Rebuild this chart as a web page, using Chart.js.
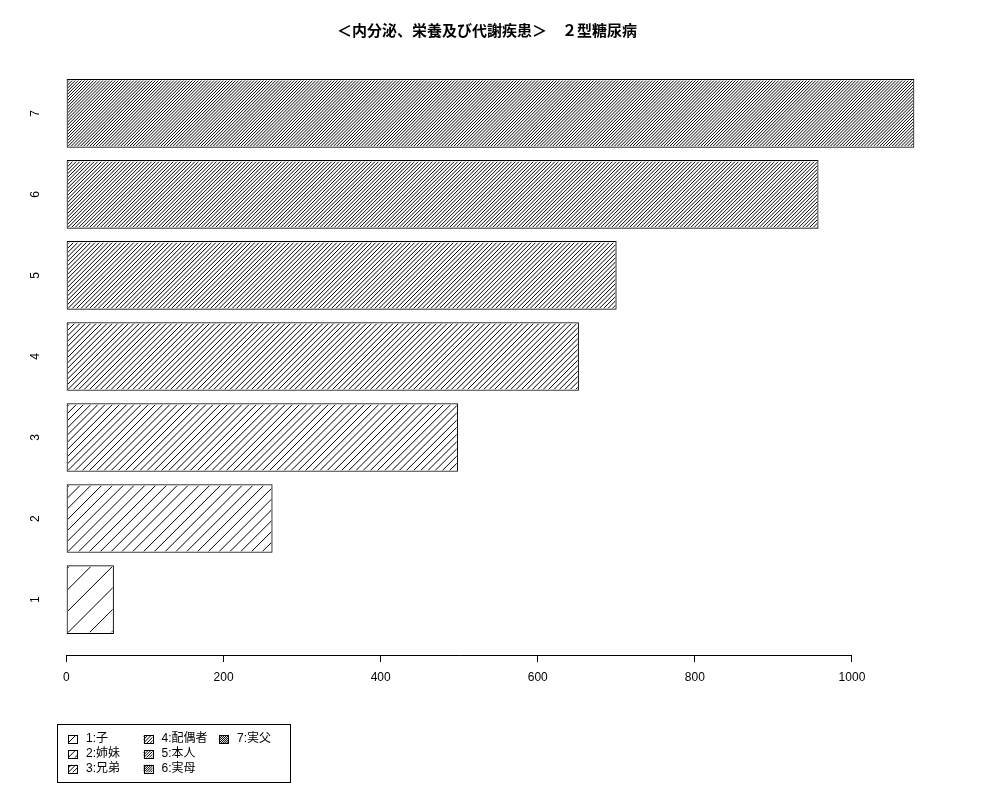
<!DOCTYPE html>
<html>
<head>
<meta charset="utf-8">
<title>2型糖尿病</title>
<script src="https://cdn.jsdelivr.net/npm/chart.js@4.4.0/dist/chart.umd.min.js"></script>
<style>
html, body { margin: 0; padding: 0; background: #fff; }
#chartBox { width: 1000px; height: 800px; }
</style>
</head>
<body>
<div id="chartBox"><canvas id="chart" width="1000" height="800"></canvas></div>
<script>
const chartTitle = "＜内分泌、栄養及び代謝疾患＞　２型糖尿病";
const categories = ["1", "2", "3", "4", "5", "6", "7"];
const values = [60, 262, 498, 652, 700, 957, 1079];
const legendLabels = ["1:子", "2:姉妹", "3:兄弟", "4:配偶者", "5:本人", "6:実母", "7:実父"];
const xTicks = [0, 200, 400, 600, 800, 1000];

const latinFont = "'Liberation Sans', Arial, sans-serif";
const cjkFont = "'Liberation Sans', 'Noto Sans CJK JP', sans-serif";
const hatchStep = 21.6; // gap of hatch lines for bar 1, divided by the bar number

function hatchRect(ctx, left, top, right, bottom, step) {
    if (right <= left || bottom <= top) return;
    ctx.save();
    ctx.beginPath();
    ctx.rect(left, top, right - left, bottom - top);
    ctx.clip();
    ctx.beginPath();
    // lines x + y = c, drawn as "/"
    let c = left + bottom - Math.ceil((bottom - top) / step) * step;
    for (; c <= right + bottom; c += step) {
        ctx.moveTo(c - bottom, bottom);
        ctx.lineTo(c - top, top);
    }
    ctx.strokeStyle = "#000";
    ctx.lineWidth = 1;
    ctx.stroke();
    ctx.restore();
}

const barHatch = {
    id: "barHatch",
    afterDatasetsDraw(chart) {
        const ctx = chart.ctx;
        chart.getDatasetMeta(0).data.forEach((bar, i) => {
            const p = bar.getProps(["x", "y", "base", "height"], true);
            const left = Math.min(p.x, p.base);
            const right = Math.max(p.x, p.base);
            const top = p.y - p.height / 2;
            const bottom = p.y + p.height / 2;
            hatchRect(ctx, left + 1, top + 1, right - 1, bottom - 1, hatchStep / (i + 1));
        });
    }
};

const extras = {
    id: "extras",
    afterDraw(chart) {
        const ctx = chart.ctx;
        const xScale = chart.scales.x;
        const area = chart.chartArea;

        // axis line only over the tick range, like R
        ctx.save();
        ctx.strokeStyle = "#000";
        ctx.lineWidth = 1;
        ctx.beginPath();
        ctx.moveTo(xScale.getPixelForValue(xTicks[0]), Math.round(area.bottom) + 0.5);
        ctx.lineTo(xScale.getPixelForValue(xTicks[xTicks.length - 1]), Math.round(area.bottom) + 0.5);
        ctx.stroke();

        // title
        ctx.fillStyle = "#000";
        ctx.font = "bold 15px 'Noto Sans CJK JP', sans-serif";
        ctx.textAlign = "center";
        ctx.textBaseline = "middle";
        ctx.fillText(chartTitle, 487, 30);

        // legend box
        ctx.strokeRect(57.5, 724.5, 233, 58);
        ctx.font = "12px " + cjkFont;
        ctx.textAlign = "left";
        legendLabels.forEach((label, i) => {
            const col = Math.floor(i / 3);
            const row = i % 3;
            const ix = 68 + col * 75.5;
            const iy = 739 + row * 14.8;
            ctx.fillStyle = "#fff";
            ctx.fillRect(ix, iy - 4, 9, 8);
            hatchRect(ctx, ix, iy - 4, ix + 9, iy + 4, hatchStep / (i + 1) / 1.6);
            ctx.strokeRect(Math.round(ix) + 0.5, Math.round(iy - 4) + 0.5, 9, 8);
            ctx.fillStyle = "#000";
            ctx.fillText(label, ix + 18, iy);
        });
        ctx.restore();
    }
};

Chart.defaults.color = "#000";
Chart.defaults.font.family = latinFont;
Chart.defaults.font.size = 12;

new Chart(document.getElementById("chart").getContext("2d"), {
    type: "bar",
    data: {
        datasets: [{
            label: "2型糖尿病",
            data: values.map((v, i) => ({ x: v, y: i + 1 })),
            backgroundColor: "#fff",
            borderColor: "#000",
            borderWidth: 1,
            borderSkipped: false,
            barThickness: 68
        }]
    },
    options: {
        indexAxis: "y",
        responsive: false,
        animation: false,
        layout: { padding: { top: 62, right: 53, left: 0, bottom: 0 } },
        plugins: {
            legend: { display: false },
            title: { display: false },
            tooltip: { enabled: false }
        },
        scales: {
            x: {
                type: "linear",
                min: -23.5,
                max: 1121,
                offset: false,
                afterBuildTicks: scale => { scale.ticks = xTicks.map(v => ({ value: v })); },
                afterFit: scale => { scale.height = 145; },
                grid: { drawOnChartArea: false, drawTicks: true, tickLength: 7, color: "#000", lineWidth: 1 },
                border: { display: false },
                ticks: { padding: 8, maxRotation: 0, autoSkip: false, font: { size: 12 }, callback: value => String(value) }
            },
            y: {
                type: "linear",
                min: 0.316,
                max: 7.634,
                offset: false,
                afterBuildTicks: scale => { scale.ticks = categories.map((c, i) => ({ value: i + 1 })); },
                afterFit: scale => { scale.width = 48; },
                grid: { display: false, drawTicks: false },
                border: { display: false },
                ticks: {
                    minRotation: 90,
                    maxRotation: 90,
                    crossAlign: "center",
                    padding: 9,
                    autoSkip: false,
                    font: { size: 12 },
                    callback: value => categories[value - 1]
                }
            }
        }
    },
    plugins: [barHatch, extras]
});
</script>
</body>
</html>
